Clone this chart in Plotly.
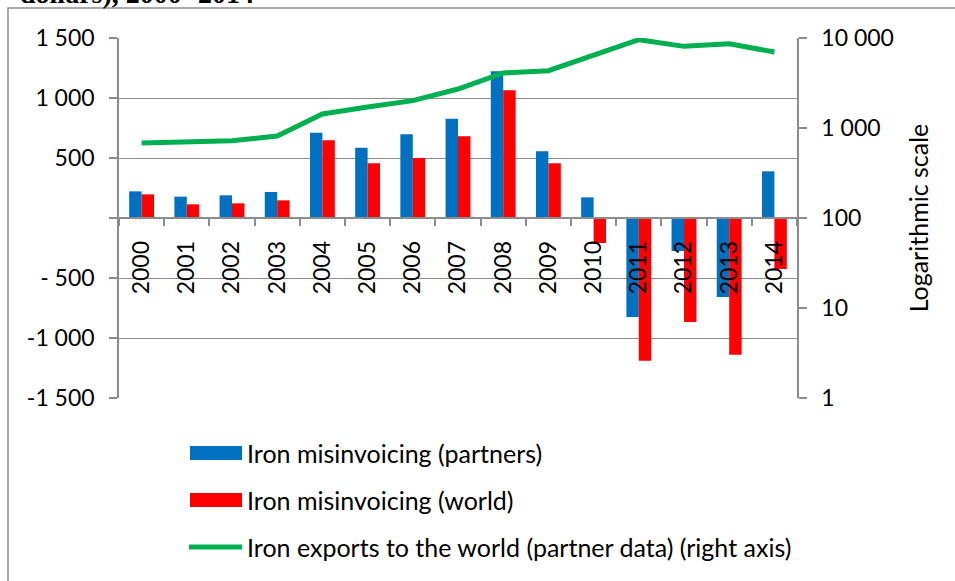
import plotly.graph_objects as go

years = [str(y) for y in range(2000, 2015)]
misinv_partners = [222, 178, 189, 217, 711, 586, 697, 828, 1222, 556, 172, -825, -275, -658, 389]
misinv_world = [197, 114, 122, 147, 647, 456, 500, 681, 1064, 456, -208, -1189, -867, -1139, -425]
exports_world = [681, 705, 723, 815, 1432, 1711, 2013, 2712, 4087, 4335, 6531, 9583, 8075, 8650, 6990]

left_ticks = [-1500, -1000, -500, 0, 500, 1000, 1500]
left_ticktext = ["-1 500", "-1 000", "- 500", "", "500", "1 000", "1 500"]
right_ticks = [1, 10, 100, 1000, 10000]
right_ticktext = ["1", "10", "100", "1 000", "10 000"]

legend_names = ["Iron misinvoicing (partners)", "Iron misinvoicing (world)",
                "Iron exports to the world (partner data) (right axis)"]
caption = "dollars), 2000- 2014"

BLUE = "#0070C0"
RED = "#FF0000"
GREEN = "#00B050"
GRID = "#8C8C8C"
FONT = "Lato"

W, H = 955, 581
L, R, T, B = 119, 158, 38, 183
PW, PH = W - L - R, H - T - B


def px(x):
    return (x - L) / PW


def py(y):
    return (H - B - y) / PH


fig = go.Figure()
fig.add_trace(go.Bar(x=years, y=misinv_partners, name=legend_names[0],
                     marker=dict(color=BLUE, line=dict(width=0)), showlegend=False))
fig.add_trace(go.Bar(x=years, y=misinv_world, name=legend_names[1],
                     marker=dict(color=RED, line=dict(width=0)), showlegend=False))
fig.add_trace(go.Scatter(x=years, y=exports_world, name=legend_names[2], yaxis="y2",
                         mode="lines", line=dict(color=GREEN, width=5), showlegend=False))

shapes = [
    # outer chart frame
    dict(type="rect", xref="paper", yref="paper", x0=px(8), x1=px(1200), y0=py(8), y1=py(900),
         line=dict(color="#8F8F8F", width=1.5), fillcolor="rgba(0,0,0,0)", layer="below"),
    # legend swatches
    dict(type="rect", xref="paper", yref="paper", x0=px(190), x1=px(242), y0=py(460), y1=py(446),
         fillcolor=BLUE, line=dict(width=0)),
    dict(type="rect", xref="paper", yref="paper", x0=px(190), x1=px(242), y0=py(507), y1=py(493),
         fillcolor=RED, line=dict(width=0)),
    dict(type="line", xref="paper", yref="paper", x0=px(189), x1=px(242), y0=py(547), y1=py(547),
         line=dict(color=GREEN, width=5)),
]

legend_font = dict(family=FONT, size=25, color="black")
annotations = [
    dict(text=legend_names[0], xref="paper", yref="paper", x=px(245), y=py(453),
         xanchor="left", yanchor="middle", showarrow=False, font=legend_font),
    dict(text=legend_names[1], xref="paper", yref="paper", x=px(245), y=py(500),
         xanchor="left", yanchor="middle", showarrow=False, font=legend_font),
    dict(text=legend_names[2], xref="paper", yref="paper", x=px(245), y=py(547),
         xanchor="left", yanchor="middle", showarrow=False, font=legend_font),
    # cut-off caption above the chart
    dict(text="<b>" + caption + "</b>", xref="paper", yref="paper", x=px(256), y=py(-7),
         xanchor="right", yanchor="middle", showarrow=False,
         font=dict(family="Liberation Serif", size=28, color="black")),
]

fig.update_layout(
    width=W, height=H,
    margin=dict(l=L, r=R, t=T, b=B, pad=0),
    paper_bgcolor="white", plot_bgcolor="white",
    barmode="group", bargap=0.45, bargroupgap=0,
    font=dict(family=FONT, size=23, color="black"),
    showlegend=False,
    xaxis=dict(type="category", anchor="free", position=0.5,
               showline=True, linecolor=GRID, linewidth=1.5,
               ticks="outside", tickson="boundaries", ticklen=7, tickcolor=GRID, tickwidth=1.5,
               tickangle=-90, ticklabelstandoff=13, showgrid=False,
               tickfont=dict(family=FONT, size=23, color="black")),
    yaxis=dict(range=[-1500, 1500], tickvals=left_ticks, ticktext=left_ticktext,
               showgrid=True, gridcolor=GRID, gridwidth=1.2, zeroline=False,
               showline=True, linecolor=GRID, linewidth=1.5,
               ticks="outside", ticklen=8, tickcolor=GRID, tickwidth=1.5,
               ticklabelstandoff=10,
               tickfont=dict(family=FONT, size=23, color="black")),
    yaxis2=dict(type="log", range=[0, 4], overlaying="y", side="right",
                tickvals=right_ticks, ticktext=right_ticktext, showgrid=False, zeroline=False,
                showline=True, linecolor=GRID, linewidth=1.5,
                ticks="outside", ticklen=8, tickcolor=GRID, tickwidth=1.5,
                ticklabelstandoff=10,
                tickfont=dict(family=FONT, size=23, color="black"),
                title=dict(text="Logarithmic scale", standoff=18,
                           font=dict(family=FONT, size=25, color="black"))),
    shapes=shapes,
    annotations=annotations,
)

fig.write_html("out.html", config={"displayModeBar": False},
               post_script="document.body.style.margin='0px';")
